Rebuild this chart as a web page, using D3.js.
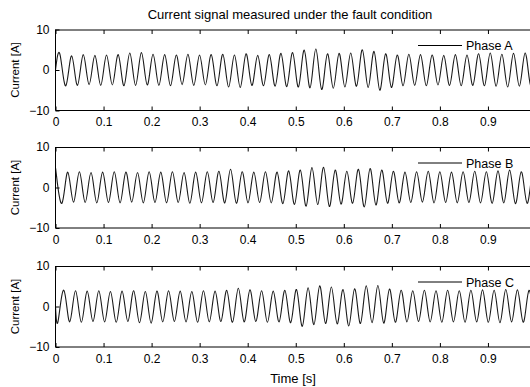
<!DOCTYPE html>
<html><head><meta charset="utf-8">
<script src="https://cdn.jsdelivr.net/npm/d3@7/dist/d3.min.js"></script>
<style>
html,body{margin:0;padding:0;background:#fff;}
svg{display:block;font-family:"Liberation Sans",Arial,sans-serif;}
</style></head>
<body><svg id="c" width="530" height="387"></svg>
<script>
// ---- data ----
const title = "Current signal measured under the fault condition";
const xTicks = [0, 0.1, 0.2, 0.3, 0.4, 0.5, 0.6, 0.7, 0.8, 0.9];
const yTicks = [-10, 0, 10];
const phaseNames = ["Phase A", "Phase B", "Phase C"];
const halfPeriod = 0.0121;           // time between successive extrema [s]
const startValues = [0, 3.5, 0];     // value at t = 0
const firstExtremumTime = [0.0094, 0.0013, 0.0054];
// successive extrema (alternating peak / trough) of each phase
const phaseA = [3.8,-3.9,3.5,-3.8,3.8,-3.6,3.6,-3.8,3.7,-3.7,3.8,-3.9,4.2,-3.8,4.3,-3.7,3.9,-3.8,3.8,-3.9,3.7,-3.6,3.9,-3.8,3.7,-3.7,3.8,-3.9,3.9,-4.2,3.7,-4.3,4.0,-3.8,3.6,-3.9,3.8,-4.0,4.1,-4.1,4.3,-4.2,4.9,-4.4,5.2,-4.8,4.0,-4.5,4.1,-4.2,4.2,-4.0,5.0,-4.3,4.6,-5.0,4.0,-4.3,3.7,-3.9,3.9,-3.8,3.8,-3.9,3.7,-3.7,3.6,-3.8,3.8,-3.9,3.7,-3.8,4.0,-3.9,4.2,-4.0,3.9,-4.2,4.1,-4.0,4.2,-4.1,4.0,-4.0];
const phaseB = [3.7,-3.9,3.8,-3.6,3.9,-3.7,3.7,-3.8,3.8,-3.7,3.9,-3.8,3.8,-3.6,3.7,-3.8,3.9,-3.7,3.8,-3.8,3.9,-3.7,3.7,-3.9,3.8,-3.8,3.9,-3.7,4.0,-3.8,4.5,-3.9,3.9,-3.8,3.8,-3.7,3.9,-3.8,3.8,-4.0,4.1,-4.2,4.3,-4.6,4.9,-4.2,5.0,-4.7,4.3,-4.1,4.0,-3.9,4.5,-4.8,4.7,-4.3,4.3,-3.9,4.0,-3.8,3.8,-3.7,3.9,-3.6,4.0,-3.8,3.9,-3.7,3.8,-3.8,3.9,-3.7,4.0,-3.8,3.9,-3.9,4.1,-3.8,4.3,-4.0,3.9,-3.9,4.0,-3.8];
const phaseC = [-3.6,4.0,-3.8,3.9,-3.9,3.8,-3.7,3.9,-3.8,3.7,-3.9,3.8,-3.7,3.9,-4.0,3.7,-4.1,3.8,-3.8,3.9,-3.7,3.8,-3.8,3.7,-3.9,3.9,-3.8,3.8,-3.7,4.0,-3.9,4.5,-3.8,4.1,-3.7,3.9,-3.9,3.8,-3.8,4.0,-4.0,4.2,-4.9,4.6,-4.5,5.1,-4.2,4.8,-4.3,4.2,-4.8,4.4,-4.2,5.1,-4.0,5.2,-4.1,4.3,-3.9,4.0,-3.8,3.9,-3.7,4.0,-3.8,3.9,-3.9,4.0,-3.8,3.9,-3.9,4.0,-3.8,4.1,-3.9,4.0,-4.0,4.2,-3.8,4.1,-3.9,4.0,-4.0,4.1];
const series = [phaseA, phaseB, phaseC];

// ---- layout ----
const svg = d3.select("#c");
const left = 55.5, right = 536, panelH = 81;
const tops = [29.5, 147, 266];
const x = d3.scaleLinear().domain([0, 1]).range([left, right]);
const FONT = "Liberation Sans, Arial, sans-serif";

svg.append("defs").append("clipPath").attr("id","clip")
  .append("rect").attr("x", left).attr("y", 0).attr("width", right-left).attr("height", panelH);

svg.append("text").attr("x", 290).attr("y", 19).attr("text-anchor","middle")
  .attr("font-size", 13).attr("fill","#000").text(title);

series.forEach((vals, k) => {
  const top = tops[k];
  const g = svg.append("g").attr("transform", `translate(0,${top})`);
  const y = d3.scaleLinear().domain([-10, 10]).range([panelH, 0]);

  const pts = [[0, startValues[k]]].concat(
    vals.map((v, i) => [firstExtremumTime[k] + i * halfPeriod, v]));
  const line = d3.line().x(d => x(d[0])).y(d => y(d[1])).curve(d3.curveNatural);
  g.append("path").datum(pts).attr("clip-path","url(#clip)")
    .attr("d", line).attr("fill","none").attr("stroke","#1a1a1a").attr("stroke-width",1.1);

  // box lines
  g.append("line").attr("x1", left).attr("x2", right).attr("y1", 0.5).attr("y2", 0.5).attr("stroke","#000");
  g.append("line").attr("x1", left).attr("x2", right).attr("y1", panelH).attr("y2", panelH).attr("stroke","#000");
  g.append("line").attr("x1", left).attr("x2", left).attr("y1", 0).attr("y2", panelH).attr("stroke","#000");

  const xb = g.append("g").attr("transform", `translate(0,${panelH})`)
    .call(d3.axisBottom(x).tickValues(xTicks).tickSize(-4).tickPadding(7).tickFormat(d3.format("")));
  xb.select(".domain").remove();
  xb.selectAll("text").attr("font-size", 12).attr("fill","#000").attr("font-family", FONT);
  xb.selectAll("line").attr("stroke","#000");
  const xt = g.append("g").attr("transform", "translate(0,0.5)")
    .call(d3.axisTop(x).tickValues(xTicks).tickSize(-4).tickFormat(""));
  xt.select(".domain").remove();
  xt.selectAll("line").attr("stroke","#000");

  const ya = g.append("g").attr("transform", `translate(${left},0)`)
    .call(d3.axisLeft(y).tickValues(yTicks).tickSize(-4).tickPadding(6));
  ya.select(".domain").remove();
  ya.selectAll("text").attr("font-size", 12).attr("fill","#000").attr("font-family", FONT);
  ya.selectAll("line").attr("stroke","#000");

  g.append("text").attr("transform", `translate(19,${panelH/2}) rotate(-90)`)
    .attr("text-anchor","middle").attr("font-size", 11.5).attr("fill","#000").text("Current [A]");

  g.append("line").attr("x1", 418).attr("x2", 462).attr("y1", 16).attr("y2", 16).attr("stroke","#000");
  g.append("text").attr("x", 466).attr("y", 20.5).attr("font-size", 12.5).attr("fill","#000").text(phaseNames[k]);
});

svg.append("text").attr("x", 293).attr("y", 383).attr("text-anchor","middle")
  .attr("font-size", 13).attr("fill","#000").text("Time [s]");
</script></body></html>
